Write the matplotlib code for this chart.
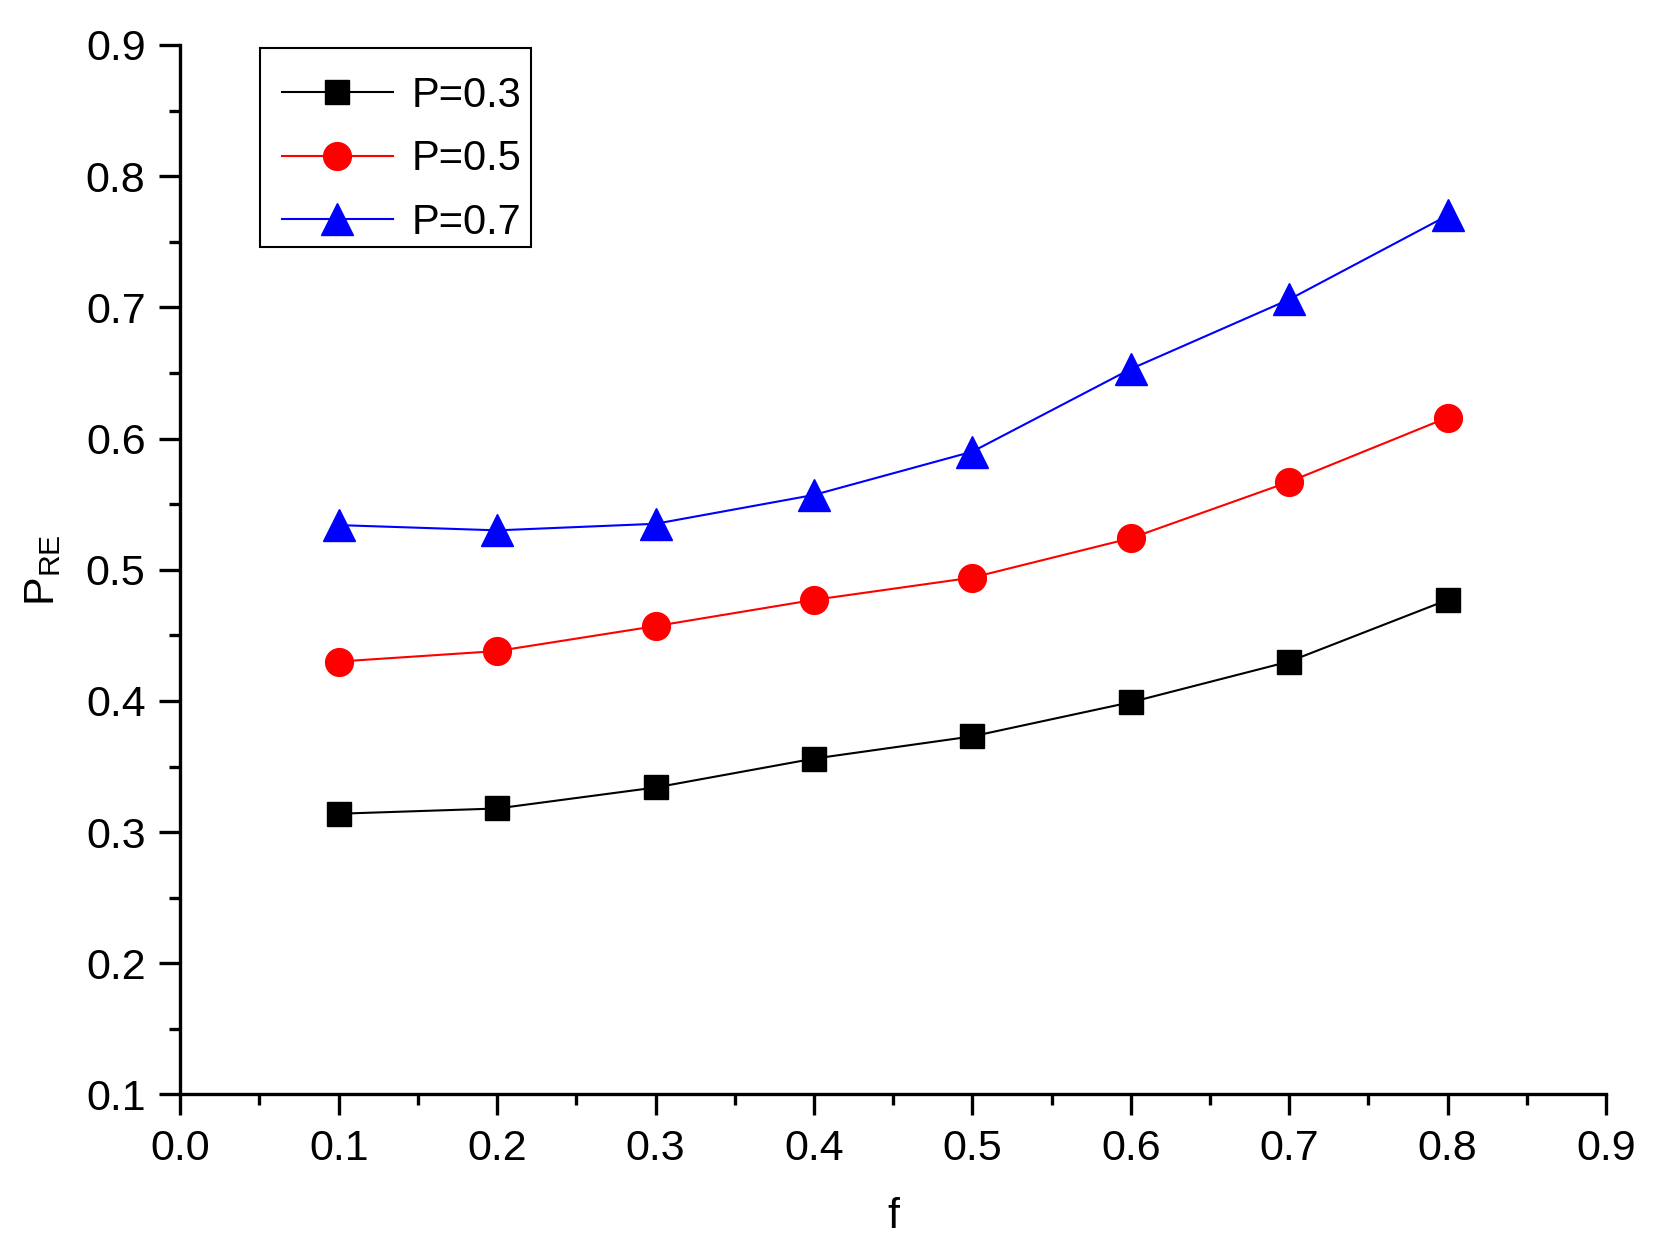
import matplotlib
matplotlib.use("Agg")
import matplotlib.pyplot as plt
from matplotlib.patches import Rectangle
from matplotlib.ticker import MultipleLocator, FormatStrFormatter

# data
f_vals = [0.1, 0.2, 0.3, 0.4, 0.5, 0.6, 0.7, 0.8]
p03 = [0.314, 0.318, 0.334, 0.356, 0.373, 0.399, 0.430, 0.477]
p05 = [0.430, 0.438, 0.457, 0.477, 0.494, 0.524, 0.567, 0.616]
p07 = [0.534, 0.530, 0.535, 0.557, 0.590, 0.653, 0.706, 0.770]
labels = ["P=0.3", "P=0.5", "P=0.7"]

plt.rcParams['font.family'] = ['Liberation Sans', 'DejaVu Sans']
plt.rcParams['mathtext.fontset'] = 'custom'
plt.rcParams['mathtext.rm'] = 'Liberation Sans'

fig = plt.figure(figsize=(16.54, 12.48), dpi=100)
ax = fig.add_axes([0.109, 0.123, 0.862, 0.841])

ax.plot(f_vals, p03, '-', color='black', lw=1.5, marker='s', markersize=17,
        markerfacecolor='black', markeredgecolor='black', label=labels[0])
ax.plot(f_vals, p05, '-', color='red', lw=1.5, marker='o', markersize=20,
        markerfacecolor='red', markeredgecolor='red', label=labels[1])
ax.plot(f_vals, p07, '-', color='blue', lw=1.5, marker='^', markersize=23,
        markerfacecolor='blue', markeredgecolor='blue', label=labels[2])

ax.set_xlim(0.0, 0.9)
ax.set_ylim(0.1, 0.9)
ax.xaxis.set_major_locator(MultipleLocator(0.1))
ax.xaxis.set_minor_locator(MultipleLocator(0.05))
ax.yaxis.set_major_locator(MultipleLocator(0.1))
ax.yaxis.set_minor_locator(MultipleLocator(0.05))
ax.xaxis.set_major_formatter(FormatStrFormatter('%.1f'))
ax.yaxis.set_major_formatter(FormatStrFormatter('%.1f'))

ax.spines['top'].set_visible(False)
ax.spines['right'].set_visible(False)
for s in ['left', 'bottom']:
    ax.spines[s].set_linewidth(2.4)

ax.tick_params(which='major', direction='out', length=15, width=2.4,
               labelsize=31, pad=10)
ax.tick_params(which='minor', direction='out', length=8, width=2.4)

ax.set_xlabel('f', fontsize=31, labelpad=20)
ax.set_ylabel(r'$\mathregular{P_{RE}}$', fontsize=31, labelpad=16)

# legend frame drawn by hand so the rows can sit where Origin puts them
box = Rectangle((0.056, 0.8075), 0.19, 0.1895, transform=ax.transAxes,
                facecolor='white', edgecolor='black', lw=1.5, zorder=4, clip_on=False)
ax.add_patch(box)
leg = ax.legend(loc='center left', bbox_to_anchor=(0.0715, 0.891), borderaxespad=0,
                fontsize=30, frameon=False, handlelength=2.65, handletextpad=0.45,
                labelspacing=0.56, borderpad=0, numpoints=1)
leg.set_zorder(5)

fig.savefig('out.png', dpi=100)
